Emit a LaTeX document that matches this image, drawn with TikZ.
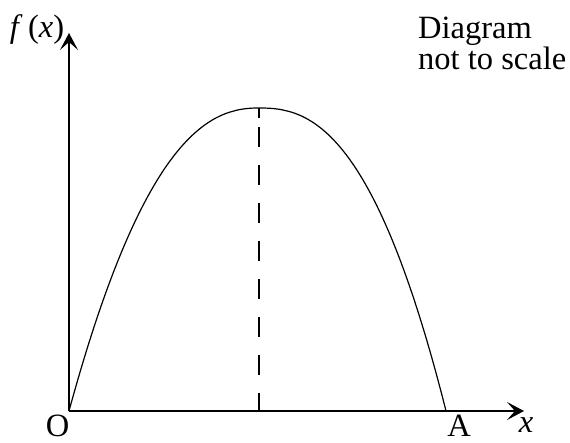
\documentclass[tikz,border=0pt]{standalone}
\usepackage{fontspec}
\setmainfont{Liberation Serif}
\usetikzlibrary{arrows.meta}
\begin{document}
\begin{tikzpicture}[x=1pt,y=-1pt,
  axis/.style={line width=1.2pt,-{Stealth[length=17pt,width=18pt,inset=8pt]}},
  curve/.style={line width=1.2pt},
  lbl/.style={inner sep=0pt,font=\fontsize{32.5}{31}\selectfont},
  guide/.style={line width=1.2pt,dash pattern=on 10pt off 9pt on 20pt off 18pt on 20pt off 18pt on 20pt off 18pt on 20pt off 18pt on 20pt off 18pt on 20pt off 18pt on 20pt off 18pt on 18pt off 100pt}]
\useasboundingbox (0,0) rectangle (570,442);
\coordinate (O) at (69,411);
\coordinate (ytip) at (69,33);
\coordinate (xtip) at (524,411);
\coordinate (peak) at (259,108);
\coordinate (foot) at (259,411);
\coordinate (Apt) at (446,411);
\draw[axis] (O) -- (ytip);
\draw[axis] (O) -- (xtip);
\draw[curve] (O) -- plot[variable=\t,domain=0.995:0.01,samples=80] ({259-190*\t},{108+303*pow(\t,2.3)}) -- (peak)
  -- plot[variable=\t,domain=0.01:0.995,samples=80] ({259+187*\t},{108+303*pow(\t,2.45)}) -- (Apt);
\draw[guide] (peak) -- (foot);
\node[lbl,anchor=base] (lO) at (57.5,436) {O};
\node[lbl,anchor=base] (lA) at (459,436) {A};
\node[lbl,anchor=base] (lx) at (526,432) {\textit{x}};
\node[lbl,anchor=base] (lf) at (37,37) {\textit{f}\,(\textit{x})};
\node[lbl,anchor=base west,align=left] (note) at (418,69) {Diagram\\not to scale};
\end{tikzpicture}
\end{document}
